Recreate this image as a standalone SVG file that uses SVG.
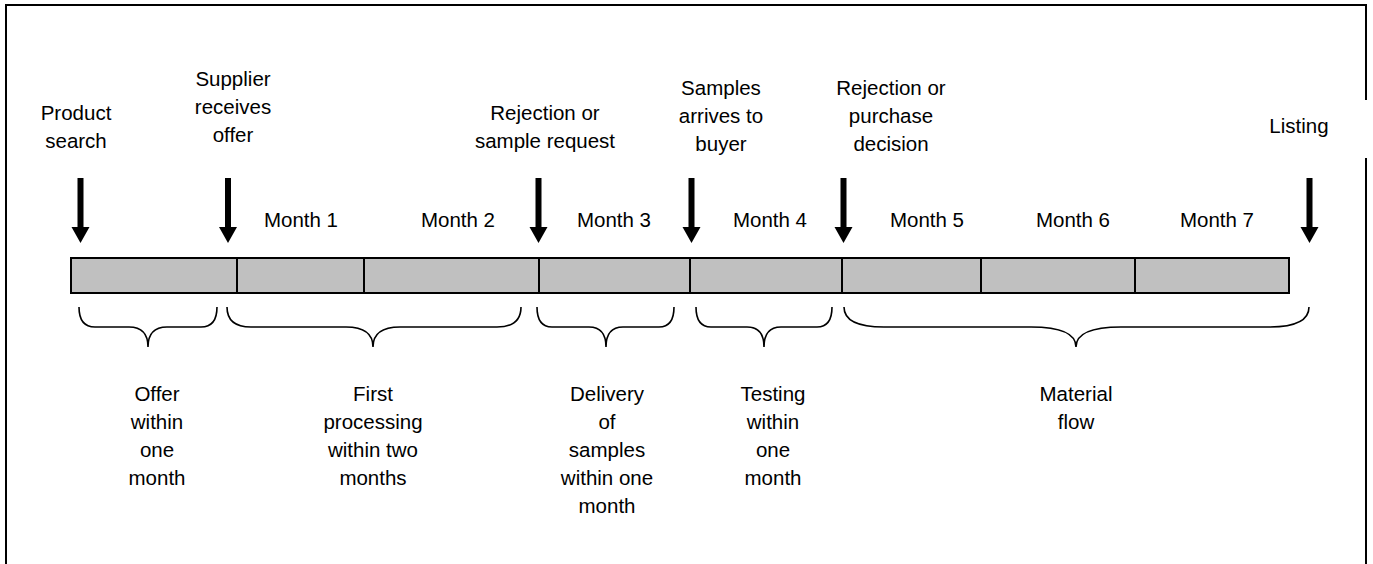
<svg xmlns="http://www.w3.org/2000/svg" width="1373" height="564" viewBox="0 0 1373 564">
<style>
text{font-family:"Liberation Sans",Arial,sans-serif;font-size:20.5px;fill:#000;text-anchor:middle}
.frame{fill:none;stroke:#000;stroke-width:2}
.seg{fill:#c0c0c0;stroke:#000;stroke-width:2}
.brace{fill:none;stroke:#000;stroke-width:1.6}
.shaft{fill:#000}
</style>
<defs>
<g id="arrow"><rect x="-3" y="178" width="6" height="50" class="shaft"/><polygon points="-9,227 9,227 0,243" fill="#000"/></g>
</defs>
<g id="frame">
<path class="frame" d="M6,564 V5 H1366 V100 M1366,158 V564"/>
</g>
<g id="bar">
<rect class="seg" x="71" y="258" width="166" height="35"/>
<rect class="seg" x="237" y="258" width="127" height="35"/>
<rect class="seg" x="364" y="258" width="175" height="35"/>
<rect class="seg" x="539" y="258" width="151" height="35"/>
<rect class="seg" x="690" y="258" width="152" height="35"/>
<rect class="seg" x="842" y="258" width="139" height="35"/>
<rect class="seg" x="981" y="258" width="154" height="35"/>
<rect class="seg" x="1135" y="258" width="154" height="35"/>
</g>
<g id="months">
<text x="301" y="227">Month 1</text>
<text x="458" y="227">Month 2</text>
<text x="614" y="227">Month 3</text>
<text x="770" y="227">Month 4</text>
<text x="927" y="227">Month 5</text>
<text x="1073" y="227">Month 6</text>
<text x="1217" y="227">Month 7</text>
</g>
<g id="connectors">
<use href="#arrow" x="80.5"/>
<use href="#arrow" x="228"/>
<use href="#arrow" x="538.5"/>
<use href="#arrow" x="691.5"/>
<use href="#arrow" x="843.5"/>
<use href="#arrow" x="1309.5"/>
<path class="brace" d="M79,307 Q79,327 95,327 L129,327 Q148,327 148,347 Q148,327 167,327 L201,327 Q217,327 217,307"/>
<path class="brace" d="M227,307 Q227,327 251,327 L346,327 Q373,327 373,347 Q373,327 400,327 L497,327 Q521,327 521,307"/>
<path class="brace" d="M537,307 Q537,327 552,327 L589,327 Q606,327 606,347 Q606,327 623,327 L659,327 Q674,327 674,307"/>
<path class="brace" d="M696,307 Q696,327 711,327 L747,327 Q764,327 764,347 Q764,327 781,327 L817,327 Q832,327 832,307"/>
<path class="brace" d="M844,307 Q844,327 884,327 L1031,327 Q1076,327 1076,347 Q1076,327 1121,327 L1269,327 Q1309,327 1309,307"/>
</g>
<g id="event-product-search"><text x="76" y="120">Product</text><text x="76" y="148">search</text></g>
<g id="event-supplier"><text x="233" y="86">Supplier</text><text x="233" y="114">receives</text><text x="233" y="142">offer</text></g>
<g id="event-rejection-sample"><text x="545" y="120">Rejection or</text><text x="545" y="148">sample request</text></g>
<g id="event-samples-arrive"><text x="721" y="95">Samples</text><text x="721" y="123">arrives to</text><text x="721" y="151">buyer</text></g>
<g id="event-purchase"><text x="891" y="95">Rejection or</text><text x="891" y="123">purchase</text><text x="891" y="151">decision</text></g>
<g id="event-listing"><text x="1299" y="133">Listing</text></g>
<g id="phase-offer"><text x="157" y="401">Offer</text><text x="157" y="429">within</text><text x="157" y="457">one</text><text x="157" y="485">month</text></g>
<g id="phase-first"><text x="373" y="401">First</text><text x="373" y="429">processing</text><text x="373" y="457">within two</text><text x="373" y="485">months</text></g>
<g id="phase-delivery"><text x="607" y="401">Delivery</text><text x="607" y="429">of</text><text x="607" y="457">samples</text><text x="607" y="485">within one</text><text x="607" y="513">month</text></g>
<g id="phase-testing"><text x="773" y="401">Testing</text><text x="773" y="429">within</text><text x="773" y="457">one</text><text x="773" y="485">month</text></g>
<g id="phase-material"><text x="1076" y="401">Material</text><text x="1076" y="429">flow</text></g>
</svg>
